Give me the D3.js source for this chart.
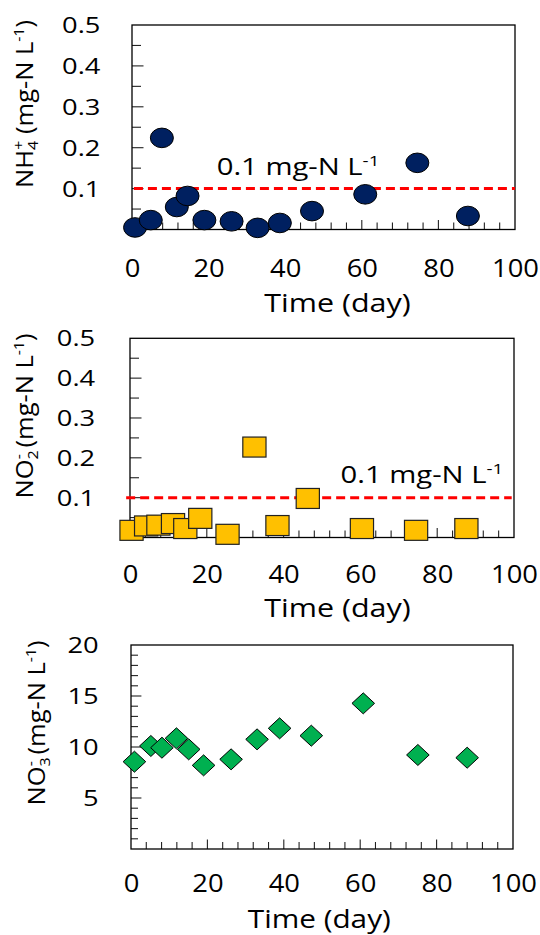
<!DOCTYPE html>
<html>
<head>
<meta charset="utf-8">
<script src="https://cdn.jsdelivr.net/npm/d3@7"></script>
<style>
  body { margin: 0; background: #fff; }
  svg { display: block; }
  text { font-family: "Open Sans", Lato, sans-serif; fill: #000; }
</style>
</head>
<body>
<svg width="540" height="935"></svg>
<script>
// sampling days and concentrations
var nh4Day = [0.8, 4.9, 7.8, 11.7, 14.5, 18.9, 26.0, 32.8, 38.6, 47.0, 60.9, 74.5, 87.7];
var nh4Val = [0.005, 0.023, 0.224, 0.055, 0.082, 0.023, 0.020, 0.004, 0.016, 0.045, 0.086, 0.163, 0.033];

var no2Day = [0.4, 4.2, 7.4, 11.2, 14.4, 18.3, 25.4, 32.4, 38.4, 46.3, 60.4, 74.5, 87.6];
var no2Val = [0.018, 0.029, 0.031, 0.035, 0.0225, 0.048, 0.008, 0.227, 0.030, 0.098, 0.0225, 0.018, 0.0225];

var no3Day = [0.9, 5.2, 8.1, 11.9, 15.1, 19.0, 26.2, 33.0, 38.9, 47.2, 60.8, 75.1, 88.0];
var no3Val = [8.56, 10.1, 9.93, 10.85, 9.77, 8.2, 8.79, 10.75, 11.83, 11.11, 14.28, 9.22, 8.95];

var timeTicks = [0, 20, 40, 60, 80, 100];
var lowTicks = [0.1, 0.2, 0.3, 0.4, 0.5];
var no3Ticks = [5, 10, 15, 20];
var limit = 0.1;

var svg = d3.select('svg');

function zip(a, b) { return a.map(function(d, i){ return {x: d, y: b[i]}; }); }

// text a little wider than the font, like the original
function addText(parent, x, y, sx, anchor, size) {
  return parent.append('g')
      .attr('transform', 'translate(' + x + ',' + y + ')')
    .append('text')
      .attr('transform', 'scale(' + sx + ',1)')
      .attr('text-anchor', anchor)
      .style('font-size', size + 'px');
}

function panel(p) {
  var g = svg.append('g');
  var x = d3.scaleLinear().domain([0, 100]).range([p.left, p.right]),
      y = d3.scaleLinear().domain(p.yDomain).range([p.bottom, p.top]);

  // inward ticks
  var xTicks = d3.range(4, 100, 4).map(function(v){ return {v: v, len: v % 20 ? 7 : 9.5}; });
  g.append('g').selectAll('line')
    .data(xTicks).enter().append('line')
      .attr('x1', function(d){ return x(d.v); }).attr('x2', function(d){ return x(d.v); })
      .attr('y1', p.bottom).attr('y2', function(d){ return p.bottom - d.len; })
      .attr('stroke', '#222').attr('stroke-width', 1.1);

  var yTicks = p.yMinor.map(function(v){ return {v: v, len: p.minorLen}; })
    .concat(p.yMajor.map(function(v){ return {v: v, len: p.majorLen}; }));
  g.append('g').selectAll('line')
    .data(yTicks).enter().append('line')
      .attr('y1', function(d){ return y(d.v); }).attr('y2', function(d){ return y(d.v); })
      .attr('x1', p.left).attr('x2', function(d){ return p.left + d.len; })
      .attr('stroke', '#222').attr('stroke-width', 1.1);

  g.append('rect')
      .attr('x', p.left).attr('y', p.top)
      .attr('width', p.right - p.left).attr('height', p.bottom - p.top)
      .attr('fill', 'none').attr('stroke', '#000').attr('stroke-width', 1.3);

  // tick labels
  var xl = g.append('g').attr('transform', 'translate(0,' + p.xLabelBase + ')')
    .call(d3.axisBottom(x).tickValues(timeTicks).tickSize(0).tickFormat(d3.format('d')));
  xl.select('.domain').remove();
  xl.selectAll('text').attr('y', 0).attr('dy', 0)
    .attr('transform', 'scale(1.07,1)')
    .style('font-size', '25.6px').attr('font-family', null);

  var yl = g.append('g').attr('transform', 'translate(' + p.yLabelRight + ',0)')
    .call(d3.axisLeft(y).tickValues(p.yLabels).tickSize(0).tickFormat(p.fmt));
  yl.select('.domain').remove();
  yl.selectAll('text').attr('x', 0).attr('dy', '0.36em')
    .attr('transform', 'scale(1.3,1)')
    .style('font-size', '21px').attr('font-family', null);

  // axis titles
  addText(g, p.titleX, p.titleBase, 1.19, 'middle', p.titleSize || 25.6).text('Time (day)');

  var yt = g.append('g').attr('transform', 'translate(' + p.yTitleX + ',' + p.yTitleY + ') rotate(-90)')
    .append('text').attr('text-anchor', 'middle')
    .attr('transform', 'scale(1.07,1)')
    .style('font-size', '23.8px');
  yt.append('tspan').text(p.ion);
  yt.append('tspan').attr('dy', 5).style('font-size', '15px').text(p.sub);
  yt.append('tspan').attr('dx', -8.2).attr('dy', -14).style('font-size', '15px').text(p.sup);
  yt.append('tspan').attr('dy', 9).text(' (mg-N L');
  yt.append('tspan').attr('dy', -9).style('font-size', '15px').text('-1');
  yt.append('tspan').attr('dy', 9).text(')');

  // guide line at 0.1 mg-N/L
  if (p.ref) {
    g.append('line')
        .attr('x1', x(p.ref[0])).attr('x2', x(p.ref[1]))
        .attr('y1', y(limit)).attr('y2', y(limit))
        .attr('stroke', '#ff0000').attr('stroke-width', 3)
        .attr('stroke-dasharray', '9,5');
    var rt = addText(g, p.refX, p.refBase, 1.25, 'start', 23.4);
    rt.append('tspan').text(limit + ' mg-N L');
    rt.append('tspan').attr('dy', -9).style('font-size', '15px').text('-1');
  }

  var pts = g.append('g').selectAll('path')
    .data(zip(p.days, p.vals))
    .enter();

  if (p.shape === 'circle') {
    pts.append('ellipse')
      .attr('cx', function(d){ return x(d.x); })
      .attr('cy', function(d){ return y(d.y); })
      .attr('rx', 11.5).attr('ry', 9.8)
      .attr('fill', p.color).attr('stroke', '#000').attr('stroke-width', 1);
  } else if (p.shape === 'square') {
    pts.append('rect')
      .attr('x', function(d){ return x(d.x) - 11.6; })
      .attr('y', function(d){ return y(d.y) - 10; })
      .attr('width', 23.2).attr('height', 20)
      .attr('fill', p.color).attr('stroke', '#222').attr('stroke-width', 1.2);
  } else {
    pts.append('path')
      .attr('d', function(d){
        var cx = x(d.x), cy = y(d.y);
        return 'M' + (cx - 11.3) + ',' + cy + 'L' + cx + ',' + (cy - 10.5) +
               'L' + (cx + 11.3) + ',' + cy + 'L' + cx + ',' + (cy + 10.5) + 'Z';
      })
      .attr('fill', p.color).attr('stroke', '#000').attr('stroke-width', 1);
  }
}

panel({
  left: 132, right: 515, top: 25, bottom: 229.5,
  yDomain: [0, 0.5], yMajor: [0.1, 0.2, 0.3, 0.4], yMinor: d3.range(0.05, 0.5, 0.1),
  majorLen: 11.5, minorLen: 9, yLabels: lowTicks, fmt: d3.format('.1f'),
  yLabelRight: 100.4, xLabelBase: 276.7, titleX: 337.5, titleBase: 311.7,
  yTitleX: 33, yTitleY: 104, ion: 'NH', sub: '4', sup: '+',
  ref: [0.5, 100], refX: 216.7, refBase: 175,
  days: nh4Day, vals: nh4Val, shape: 'circle', color: '#002060'
});

panel({
  left: 130, right: 514, top: 338.3, bottom: 537.5,
  yDomain: [0, 0.5], yMajor: [0.1, 0.2, 0.3, 0.4], yMinor: d3.range(0.05, 0.5, 0.1),
  majorLen: 11.5, minorLen: 9, yLabels: lowTicks, fmt: d3.format('.1f'),
  yLabelRight: 95.2, xLabelBase: 583.3, titleX: 337.5, titleBase: 616.7,
  yTitleX: 33, yTitleY: 416, ion: 'NO', sub: '2', sup: '-',
  ref: [-1, 99.4], refX: 340.5, refBase: 483.3,
  days: no2Day, vals: no2Val, shape: 'square', color: '#ffc000'
});

panel({
  left: 131, right: 513, top: 645, bottom: 849,
  yDomain: [0, 20], yMajor: [5, 10, 15], yMinor: d3.range(1, 20).filter(function(v){ return v % 5; }),
  majorLen: 10.4, minorLen: 7, yLabels: no3Ticks, fmt: d3.format('d'),
  yLabelRight: 98.6, xLabelBase: 892, titleX: 319.3, titleBase: 928, titleSize: 25,
  yTitleX: 45, yTitleY: 723, ion: 'NO', sub: '3', sup: '-',
  ref: null,
  days: no3Day, vals: no3Val, shape: 'diamond', color: '#00b050'
});
</script>
</body>
</html>
